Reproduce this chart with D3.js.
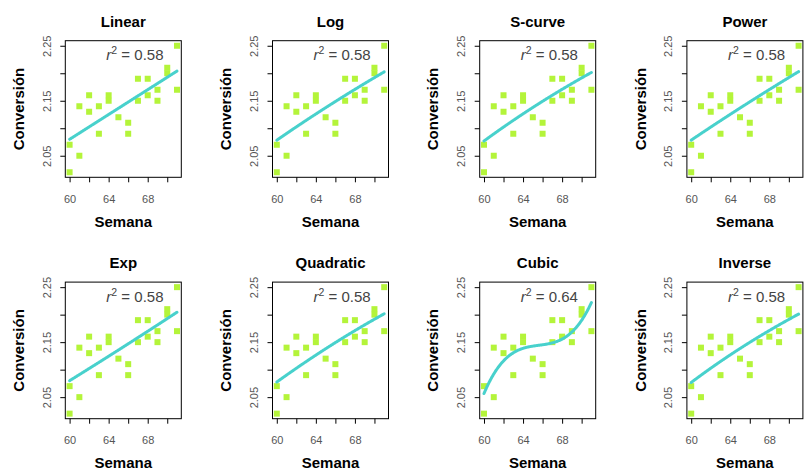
<!DOCTYPE html>
<html>
<head>
<meta charset="utf-8">
<script src="https://cdn.jsdelivr.net/npm/d3@7"></script>
<style>
  html, body { margin: 0; padding: 0; background: #fff; }
  svg { display: block; font-family: "Liberation Sans", Arial, Helvetica, sans-serif; }
</style>
</head>
<body>
<svg id="chart" width="804" height="474"></svg>
<script>
// ---- data ----
const weeks      = [60, 60, 61, 61, 62, 62, 63, 63, 64, 64, 65, 66, 66, 67, 67, 68, 68, 69, 69, 70, 70, 71, 71];
const conversion = [2.07, 2.02, 2.14, 2.05, 2.16, 2.13, 2.14, 2.09, 2.16, 2.15, 2.12, 2.11, 2.09, 2.19, 2.15, 2.19, 2.16, 2.17, 2.15, 2.21, 2.20, 2.25, 2.17];
const models     = ["Linear", "Log", "S-curve", "Power", "Exp", "Quadratic", "Cubic", "Inverse"];
const r2Labels   = ["0.58", "0.58", "0.58", "0.58", "0.58", "0.58", "0.64", "0.58"];
const xTicks      = [60, 62, 64, 66, 68, 70];
const xTickLabels = [60, 64, 68];
const yTicks      = [2.05, 2.10, 2.15, 2.20, 2.25];
const yTickLabels = [2.05, 2.15, 2.25];
const xLabel = "Semana";
const yLabel = "Conversión";

// ---- least squares fitting for each model ----
function solve(A, b) {
  const n = b.length;
  const M = A.map((r, i) => r.concat([b[i]]));
  for (let c = 0; c < n; c++) {
    let p = c;
    for (let r = c + 1; r < n; r++) if (Math.abs(M[r][c]) > Math.abs(M[p][c])) p = r;
    [M[c], M[p]] = [M[p], M[c]];
    for (let r = 0; r < n; r++) {
      if (r === c) continue;
      const f = M[r][c] / M[c][c];
      for (let k = c; k <= n; k++) M[r][k] -= f * M[c][k];
    }
  }
  return M.map((r, i) => r[n] / r[i]);
}
function lsq(basis, xs, ys) {
  const k = basis.length;
  const A = Array.from({length: k}, () => new Array(k).fill(0));
  const b = new Array(k).fill(0);
  xs.forEach((x, i) => {
    const f = basis.map(g => g(x));
    for (let r = 0; r < k; r++) {
      b[r] += f[r] * ys[i];
      for (let c = 0; c < k; c++) A[r][c] += f[r] * f[c];
    }
  });
  const coef = solve(A, b);
  return x => basis.reduce((s, g, j) => s + coef[j] * g(x), 0);
}
const xc = d3.mean(weeks);
const one = x => 1;
const lnY = conversion.map(Math.log);
const fits = {
  "Linear":    lsq([one, x => x], weeks, conversion),
  "Log":       lsq([one, x => Math.log(x)], weeks, conversion),
  "S-curve":   (f => x => Math.exp(f(x)))(lsq([one, x => 1 / x], weeks, lnY)),
  "Power":     (f => x => Math.exp(f(x)))(lsq([one, x => Math.log(x)], weeks, lnY)),
  "Exp":       (f => x => Math.exp(f(x)))(lsq([one, x => x], weeks, lnY)),
  "Quadratic": lsq([one, x => x - xc, x => (x - xc) ** 2], weeks, conversion),
  "Cubic":     lsq([one, x => x - xc, x => (x - xc) ** 2, x => (x - xc) ** 3], weeks, conversion),
  "Inverse":   lsq([one, x => 1 / x], weeks, conversion)
};

// ---- layout ----
const svg = d3.select("#chart");
const panelW = 207.2, panelH = 241.4;
const box = {left: 65.3, right: 181.3, top: 40.7, bottom: 177.3};
const xExt = d3.extent(weeks), yExt = d3.extent(conversion);
const xPad = (xExt[1] - xExt[0]) * 0.04, yPad = (yExt[1] - yExt[0]) * 0.04;
const x = d3.scaleLinear().domain([xExt[0] - xPad, xExt[1] + xPad]).range([box.left, box.right]);
const y = d3.scaleLinear().domain([yExt[0] - yPad, yExt[1] + yPad]).range([box.bottom, box.top]);
const cx = (box.left + box.right) / 2, cy = (box.top + box.bottom) / 2;
const tickGray = "#555";

models.forEach((name, i) => {
  const g = svg.append("g")
    .attr("transform", `translate(${(i % 4) * panelW},${Math.floor(i / 4) * panelH})`);

  // points
  g.append("g").selectAll("rect").data(weeks).join("rect")
    .attr("x", (d, j) => x(d) - 3)
    .attr("y", (d, j) => y(conversion[j]) - 3)
    .attr("width", 6).attr("height", 6)
    .attr("fill", "#b4f43a");

  // fitted curve
  const f = fits[name];
  const xs = d3.range(xExt[0], xExt[1] + 1e-9, 0.05);
  g.append("path")
    .datum(xs)
    .attr("d", d3.line().x(d => x(d)).y(d => y(f(d))))
    .attr("fill", "none")
    .attr("stroke", "#48d1cc")
    .attr("stroke-width", 3)
    .attr("stroke-linecap", "round")
    .attr("stroke-linejoin", "round");

  // box
  g.append("rect")
    .attr("x", box.left).attr("y", box.top)
    .attr("width", box.right - box.left).attr("height", box.bottom - box.top)
    .attr("fill", "none").attr("stroke", "#000").attr("stroke-width", 1);

  // x axis
  const xa = g.append("g").attr("transform", `translate(0,${box.bottom})`)
    .call(d3.axisBottom(x).tickValues(xTicks).tickSize(5).tickSizeOuter(0)
      .tickFormat(d => xTickLabels.includes(d) ? String(d) : ""));
  xa.select(".domain").remove();
  xa.selectAll("line").attr("stroke", "#000");
  xa.selectAll("text").attr("y", 0).attr("dy", 0)
    .attr("transform", "translate(0,25.4)")
    .attr("font-size", 11).attr("fill", tickGray).attr("font-family", null);

  // y axis
  const ya = g.append("g").attr("transform", `translate(${box.left},0)`)
    .call(d3.axisLeft(y).tickValues(yTicks).tickSize(5).tickSizeOuter(0)
      .tickFormat(d => yTickLabels.some(v => Math.abs(v - d) < 1e-9) ? d3.format(".2f")(d) : ""));
  ya.select(".domain").remove();
  ya.selectAll("line").attr("stroke", "#000");
  ya.selectAll("text")
    .attr("x", 0).attr("y", -14.8).attr("dy", 0)
    .attr("transform", "rotate(-90)")
    .attr("text-anchor", "middle")
    .attr("font-size", 11).attr("fill", tickGray).attr("font-family", null);

  // title
  g.append("text").attr("x", cx).attr("y", 26.7)
    .attr("text-anchor", "middle").attr("font-size", 15).attr("font-weight", "bold")
    .text(name);

  // axis titles
  g.append("text").attr("x", cx).attr("y", 227)
    .attr("text-anchor", "middle").attr("font-size", 15).attr("font-weight", "bold")
    .text(xLabel);
  g.append("text").attr("transform", `translate(24,${cy}) rotate(-90)`)
    .attr("text-anchor", "middle").attr("font-size", 15).attr("font-weight", "bold")
    .text(yLabel);

  // r^2 label
  const t = g.append("text").attr("x", 163.5).attr("y", 60.3)
    .attr("text-anchor", "end").attr("font-size", 15).attr("fill", "#444");
  t.append("tspan").attr("font-style", "italic").text("r");
  t.append("tspan").attr("dy", -6).attr("font-size", 10.5).text("2");
  t.append("tspan").attr("dy", 6).text(" = " + r2Labels[i]);
});
</script>
</body>
</html>
